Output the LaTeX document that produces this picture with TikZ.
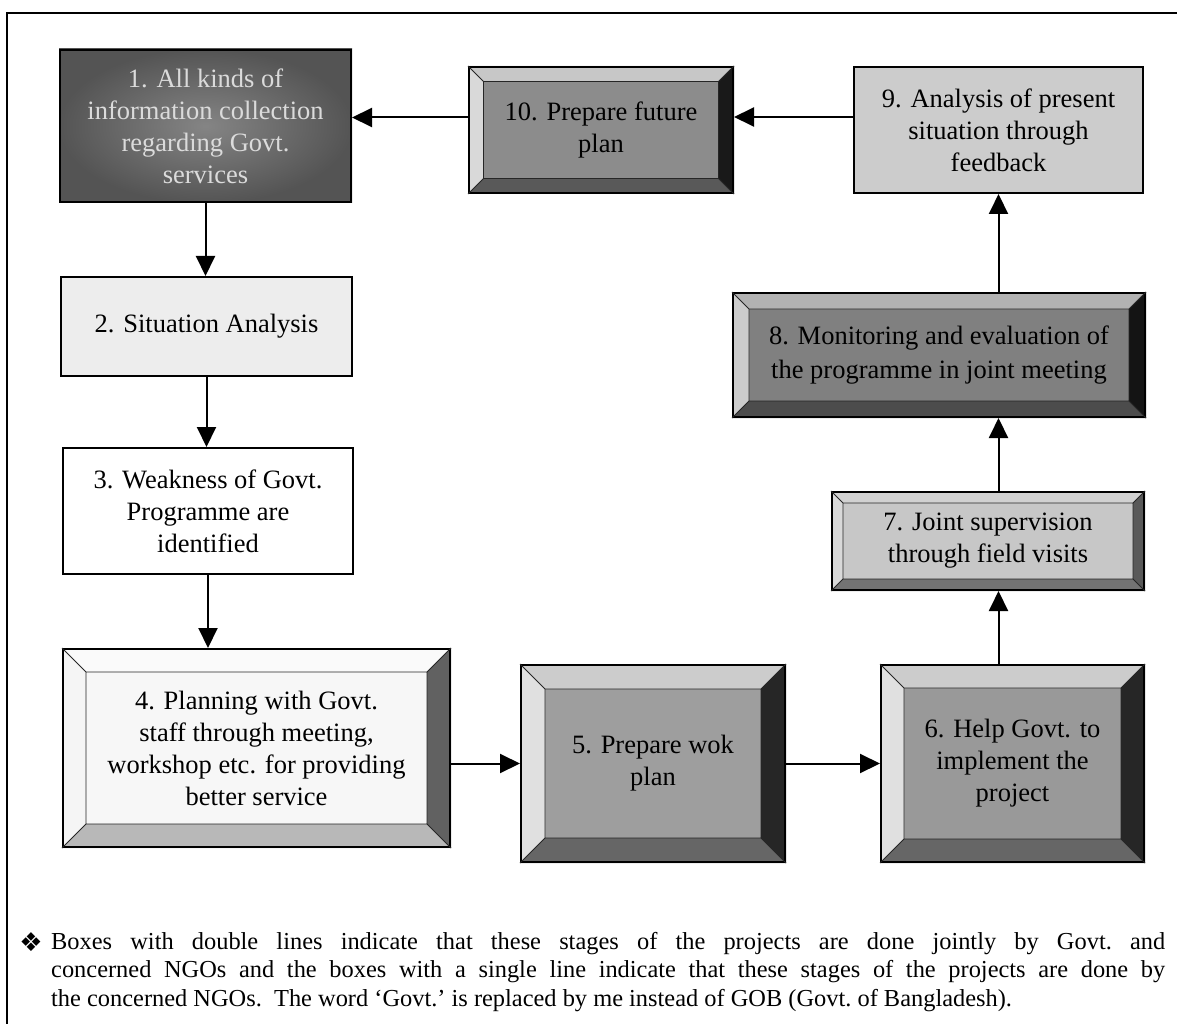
\documentclass[tikz,border=0pt]{standalone}
\usepackage{fontspec}
\setmainfont{Liberation Serif}
\newfontfamily\dingfont{DejaVu Sans}
\usetikzlibrary{calc,arrows.meta}
\pgfdeclarelayer{background}
\pgfsetlayers{background,main}

% grey tones of the faces and bevels
\definecolor{faceA}{gray}{0.33}
\definecolor{faceAin}{gray}{0.52}
\definecolor{txtA}{gray}{0.86}
\definecolor{faceB}{gray}{0.93}
\definecolor{faceNine}{gray}{0.80}

\tikzset{
  stage/.style={rectangle, draw=black, line width=2pt, align=center,
    inner sep=0pt, font=\fontsize{26.5}{32}\selectfont},
  flow/.style={line width=2pt, -{Triangle[length=20pt,width=19pt]}},
  bevel line/.style={line width=0.9pt, black!85},
}

% bevelled frame round a stage node:
% #1 node, #2 bevel width, #3 face, #4 top, #5 left, #6 right, #7 bottom
\newcommand\bevelframe[7]{%
  \path (#1.north west) coordinate (#1-o1) (#1.north east) coordinate (#1-o2)
        (#1.south east) coordinate (#1-o3) (#1.south west) coordinate (#1-o4);
  \path ($(#1.north west)+(#2,#2)$) coordinate (#1-i1)
        ($(#1.north east)+(-#2,#2)$) coordinate (#1-i2)
        ($(#1.south east)+(-#2,-#2)$) coordinate (#1-i3)
        ($(#1.south west)+(#2,-#2)$) coordinate (#1-i4);
  \begin{pgfonlayer}{background}
    \fill[#3] (#1-i1) rectangle (#1-i3);
    \fill[#4] (#1-o1) -- (#1-o2) -- (#1-i2) -- (#1-i1) -- cycle;
    \fill[#5] (#1-o1) -- (#1-i1) -- (#1-i4) -- (#1-o4) -- cycle;
    \fill[#6] (#1-o2) -- (#1-o3) -- (#1-i3) -- (#1-i2) -- cycle;
    \fill[#7] (#1-o4) -- (#1-i4) -- (#1-i3) -- (#1-o3) -- cycle;
  \end{pgfonlayer}
  \draw[bevel line] (#1-i1) rectangle (#1-i3)
     (#1-o1) -- (#1-i1) (#1-o2) -- (#1-i2) (#1-o3) -- (#1-i3) (#1-o4) -- (#1-i4);
}

\begin{document}
\begin{tikzpicture}[x=1pt,y=-1pt]
\useasboundingbox (0,0) rectangle (1177,1024);

% page frame
\draw[line width=1.5pt] (7,1024) -- (7,13) -- (1177,13);

% stages
\node[stage, minimum width=291pt, minimum height=152pt, text=txtA] (s1) at (205.5,126)
  {1. All kinds of\\information collection\\regarding Govt.\\services};
\node[stage, minimum width=264pt, minimum height=126pt] (s10) at (601,130)
  {10. Prepare future\\plan};
\node[stage, minimum width=289pt, minimum height=126pt, fill=faceNine] (s9) at (998.5,130)
  {9. Analysis of present\\situation through\\feedback};
\node[stage, minimum width=291pt, minimum height=99pt, fill=faceB] (s2) at (206.5,326.5)
  {2. Situation Analysis};
\node[stage, minimum width=290pt, minimum height=126pt, fill=white] (s3) at (208,511)
  {3. Weakness of Govt.\\Programme are\\identified};
\node[stage, minimum width=387pt, minimum height=198pt] (s4) at (256.5,748)
  {4. Planning with Govt.\\staff through meeting,\\workshop etc. for providing\\better service};
\node[stage, minimum width=264pt, minimum height=197pt] (s5) at (653,763.5)
  {5. Prepare wok\\plan};
\node[stage, minimum width=263pt, minimum height=197pt] (s6) at (1012.5,763.5)
  {6. Help Govt. to\\implement the\\project};
\node[stage, minimum width=312pt, minimum height=98pt] (s7) at (988,541)
  {7. Joint supervision\\through field visits};
\node[stage, minimum width=412pt, minimum height=124pt] (s8) at (939,355)
  {8. Monitoring and evaluation of\\[2pt]the programme in joint meeting};

% dark face of stage 1
\begin{pgfonlayer}{background}
  \shade[inner color=faceAin, outer color=faceA] (s1.north west) rectangle (s1.south east);
\end{pgfonlayer}

% bevelled stages
\bevelframe{s10}{15.5}{black!45}{black!22}{black!15}{black!90}{black!65}
\bevelframe{s4}{24}{black!3}{black!2}{black!4}{black!62}{black!28}
\bevelframe{s5}{25}{black!38}{black!20}{black!12}{black!85}{black!60}
\bevelframe{s6}{24}{black!40}{black!20}{black!12}{black!85}{black!60}
\bevelframe{s7}{12}{black!22}{black!18}{black!15}{black!65}{black!55}
\bevelframe{s8}{17}{black!50}{black!30}{black!20}{black!92}{black!70}

% connectors
\draw[flow] ($(s9.west)+(0,-13)$) -- ($(s10.east)+(0,-13)$);
\draw[flow] ($(s10.west)+(0,-12.5)$) -- ($(s1.east)+(0,-8.5)$);
\draw[flow] (s1.south) -- (s1.south |- s2.north);
\draw[flow] (s2.south) -- (s2.south |- s3.north);
\draw[flow] (s3.south) -- (s3.south |- s4.north);
\draw[flow] (s5.west -| s4.east) -- (s5.west);
\draw[flow] (s5.east) -- (s6.west);
\draw[flow] (s9.south |- s6.north) -- (s9.south |- s7.south);
\draw[flow] (s9.south |- s7.north) -- (s9.south |- s8.south);
\draw[flow] (s9.south |- s8.north) -- (s9.south);

% note under the chart
\node[font=\dingfont\fontsize{26}{26}\selectfont] (bullet) at (31,942) {❖};
\node[anchor=north west, text width=1114pt, align=justify, inner sep=0pt,
      font=\frenchspacing\fontsize{24.4}{28.5}\selectfont] (note) at (51,932)
  {Boxes with double lines indicate that these stages of the projects are done jointly by Govt. and\linebreak
   concerned NGOs and the boxes with a single line indicate that these stages of the projects are done by\linebreak
   the concerned NGOs.\ \ The word ‘Govt.’ is replaced by me instead of GOB (Govt. of Bangladesh).};
\end{tikzpicture}
\end{document}
